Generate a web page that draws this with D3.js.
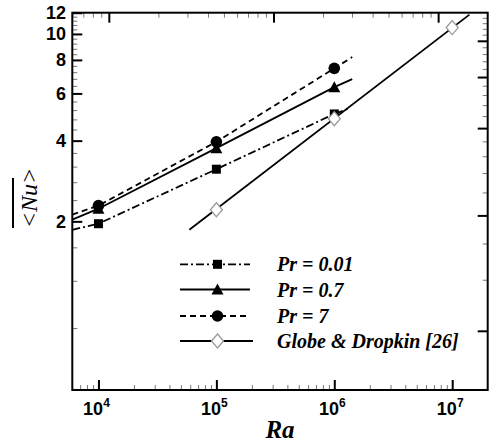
<!DOCTYPE html>
<html><head><meta charset="utf-8">
<script src="https://cdn.jsdelivr.net/npm/d3@7"></script>
<style>body{margin:0;background:#fff}svg{display:block}</style>
</head><body>
<script>
// ---- data ----
const raPoints = [1e4, 1e5, 1e6];
const nuPr001 = [1.96, 3.13, 5.03];
const nuPr07  = [2.23, 3.75, 6.33];
const nuPr7   = [2.29, 3.96, 7.44];
const raGlobe = [1e5, 1e6, 1e7];
const nuGlobe = [2.21, 4.83, 10.56];
// drawn line end points (Ra, Nu)
const linePr001 = [[6000, 1.86], [1e4, 1.96], [1e5, 3.13], [1e6, 5.03], [1.3e6, 5.25]];
const linePr07  = [[6000, 2.03], [1e4, 2.23], [1e5, 3.75], [1e6, 6.33], [1.42e6, 6.78]];
const linePr7   = [[6000, 2.12], [1e4, 2.29], [1e5, 3.96], [1e6, 7.44], [1.42e6, 8.2]];
const lineGlobe = [[5.9e4, 1.86], [1.4e7, 11.8]];
const legendLabels = ["Pr = 0.01", "Pr = 0.7", "Pr = 7", "Globe & Dropkin [26]"];
const xMajorTicks = [1e4, 1e5, 1e6, 1e7];
const xTickExp = ["4", "5", "6", "7"];
const yMajorTicks = [2, 4, 6, 8, 10, 12];
const yMinorTicks = [0.8, 1.2, 1.6, 2.4, 2.8, 3.2, 3.6, 4.4, 4.8, 5.2, 5.6, 6.4, 6.8, 7.2, 7.6, 8.4, 8.8, 9.2, 9.6, 10.4, 10.8, 11.2, 11.6];
const topMajorTicks = [1, 10, 100];
const rightMajorTicks = [0.8, 2, 4, 6, 8];
const rightMinorTicks = [1.2, 1.6, 2.4, 2.8, 3.2, 3.6, 4.4, 4.8, 5.2, 5.6, 6.4, 6.8, 7.2, 7.6, 8.4, 8.8, 9.2, 9.6];

const W = 489, H = 445;
const L = 72.3, R = 487.7, T = 12.7, B = 390;
const svg = d3.select("body").append("svg").attr("width", W).attr("height", H);

const x = d3.scaleLog().domain([6000, 2e7]).range([L, R]);
const y = d3.scaleLog().domain([0.47, 12]).range([B, T]);
const xTop = d3.scaleLog().domain([0.6, 200]).range([L, R]);
const yRight = d3.scaleLog().domain([0.5, 10]).range([B, T]);

function logMinors(sc) {
  const [a, b] = sc.domain();
  const out = [];
  for (let e = Math.floor(Math.log10(a)); e <= Math.ceil(Math.log10(b)); e++) {
    for (let m = 2; m <= 9; m++) { const v = m * Math.pow(10, e); if (v > a && v < b) out.push(v); }
  }
  return out;
}

const g = svg.append("g");
function styleMajor(s) { s.select(".domain").remove(); s.selectAll("line").attr("stroke", "#000").attr("stroke-width", 2); }
function styleMinor(s) { s.select(".domain").remove(); s.selectAll("line").attr("stroke", "#777").attr("stroke-width", 1); }
// bottom axis ticks
g.append("g").attr("transform", `translate(0,${B})`).call(d3.axisBottom(x).tickValues(xMajorTicks).tickSize(-10).tickFormat("")).call(styleMajor);
g.append("g").attr("transform", `translate(0,${B})`).call(d3.axisBottom(x).tickValues(logMinors(x)).tickSize(-5).tickFormat("")).call(styleMinor);
// top axis ticks
g.append("g").attr("transform", `translate(0,${T})`).call(d3.axisTop(xTop).tickValues(topMajorTicks).tickSize(-10).tickFormat("")).call(styleMajor);
g.append("g").attr("transform", `translate(0,${T})`).call(d3.axisTop(xTop).tickValues(logMinors(xTop)).tickSize(-5).tickFormat("")).call(styleMinor);
// left axis ticks
g.append("g").attr("transform", `translate(${L},0)`).call(d3.axisLeft(y).tickValues(yMajorTicks).tickSize(-10).tickFormat("")).call(styleMajor);
g.append("g").attr("transform", `translate(${L},0)`).call(d3.axisLeft(y).tickValues(yMinorTicks).tickSize(-5).tickFormat("")).call(styleMinor);
// right axis ticks
g.append("g").attr("transform", `translate(${R},0)`).call(d3.axisRight(yRight).tickValues(rightMajorTicks).tickSize(-10).tickFormat("")).call(styleMajor);
g.append("g").attr("transform", `translate(${R},0)`).call(d3.axisRight(yRight).tickValues(rightMinorTicks).tickSize(-5).tickFormat("")).call(styleMinor);

// frame
svg.append("rect").attr("x", L).attr("y", T).attr("width", R - L).attr("height", B - T)
  .attr("fill", "none").attr("stroke", "#000").attr("stroke-width", 2);

// tick labels
const fontTick = "'Liberation Sans', Arial, sans-serif";
svg.append("g").selectAll("text").data(yMajorTicks).join("text")
  .attr("x", 66).attr("y", d => y(d)).attr("dy", "0.36em").attr("text-anchor", "end")
  .attr("font-family", fontTick).attr("font-weight", "bold").attr("font-size", 18).text(d => d);
const xl = svg.append("g").selectAll("text").data(xMajorTicks).join("text")
  .attr("x", d => x(d) - 2).attr("y", 415).attr("text-anchor", "middle")
  .attr("font-family", fontTick).attr("font-weight", "bold").attr("font-size", 18);
xl.append("tspan").text("10");
xl.append("tspan").attr("dy", -8).attr("font-size", 12).text((d, i) => xTickExp[i]);

// lines
const line = d3.line().x(d => x(d[0])).y(d => y(d[1]));
const series = [
  {line: linePr001, dash: "8,3,2,3", ra: raPoints, nu: nuPr001, sym: "square"},
  {line: linePr07, dash: null, ra: raPoints, nu: nuPr07, sym: "triangle"},
  {line: linePr7, dash: "6,4", ra: raPoints, nu: nuPr7, sym: "circle"},
  {line: lineGlobe, dash: null, ra: raGlobe, nu: nuGlobe, sym: "diamond"}
];
function drawSym(sel, sym, cx, cy) {
  if (sym === "square") sel.append("rect").attr("x", cx - 4.5).attr("y", cy - 4.5).attr("width", 9).attr("height", 9).attr("fill", "#000");
  else if (sym === "triangle") sel.append("path").attr("d", `M${cx},${cy - 6}L${cx + 6},${cy + 5}L${cx - 6},${cy + 5}Z`).attr("fill", "#000");
  else if (sym === "circle") sel.append("circle").attr("cx", cx).attr("cy", cy).attr("r", 5.8).attr("fill", "#000");
  else sel.append("path").attr("d", `M${cx},${cy - 7}L${cx + 6},${cy}L${cx},${cy + 7}L${cx - 6},${cy}Z`).attr("fill", "#fff").attr("stroke", "#999").attr("stroke-width", 1.3);
}
const plot = svg.append("g");
series.forEach(s => {
  plot.append("path").attr("d", line(s.line)).attr("fill", "none").attr("stroke", "#000")
    .attr("stroke-width", 1.8).attr("stroke-dasharray", s.dash);
});
series.forEach(s => {
  s.ra.forEach((r, i) => drawSym(plot, s.sym, x(r), y(s.nu[i])));
});

// legend
const legY = [264.3, 289.5, 316, 341];
const leg = svg.append("g");
series.forEach((s, i) => {
  const yy = legY[i];
  leg.append("line").attr("x1", 180).attr("x2", i === 3 ? 253 : 250).attr("y1", yy).attr("y2", yy)
    .attr("stroke", "#000").attr("stroke-width", 1.8).attr("stroke-dasharray", s.dash);
  drawSym(leg, s.sym, 217.5, yy);
  leg.append("text").attr("x", 277).attr("y", yy).attr("dy", "0.35em")
    .attr("font-family", "'Liberation Serif', 'Times New Roman', serif").attr("font-style", "italic")
    .attr("font-weight", "bold").attr("font-size", 20).attr("xml:space", "preserve")
    .style("white-space", "pre").text(legendLabels[i]);
});

// axis titles
svg.append("text").attr("x", 280).attr("y", 438).attr("text-anchor", "middle")
  .attr("font-family", "'Liberation Serif', 'Times New Roman', serif").attr("font-style", "italic")
  .attr("font-weight", "bold").attr("font-size", 25).text("Ra");
const yt = svg.append("g").attr("transform", "translate(37,198) rotate(-90)");
yt.append("text").attr("x", 0).attr("y", 0).attr("text-anchor", "middle")
  .attr("font-family", "'Liberation Serif', 'Times New Roman', serif").attr("font-style", "italic")
  .attr("font-size", 24).text("<Nu>");
yt.append("line").attr("x1", -30).attr("x2", 20).attr("y1", -24).attr("y2", -24).attr("stroke", "#000").attr("stroke-width", 2);
</script>
</body></html>
